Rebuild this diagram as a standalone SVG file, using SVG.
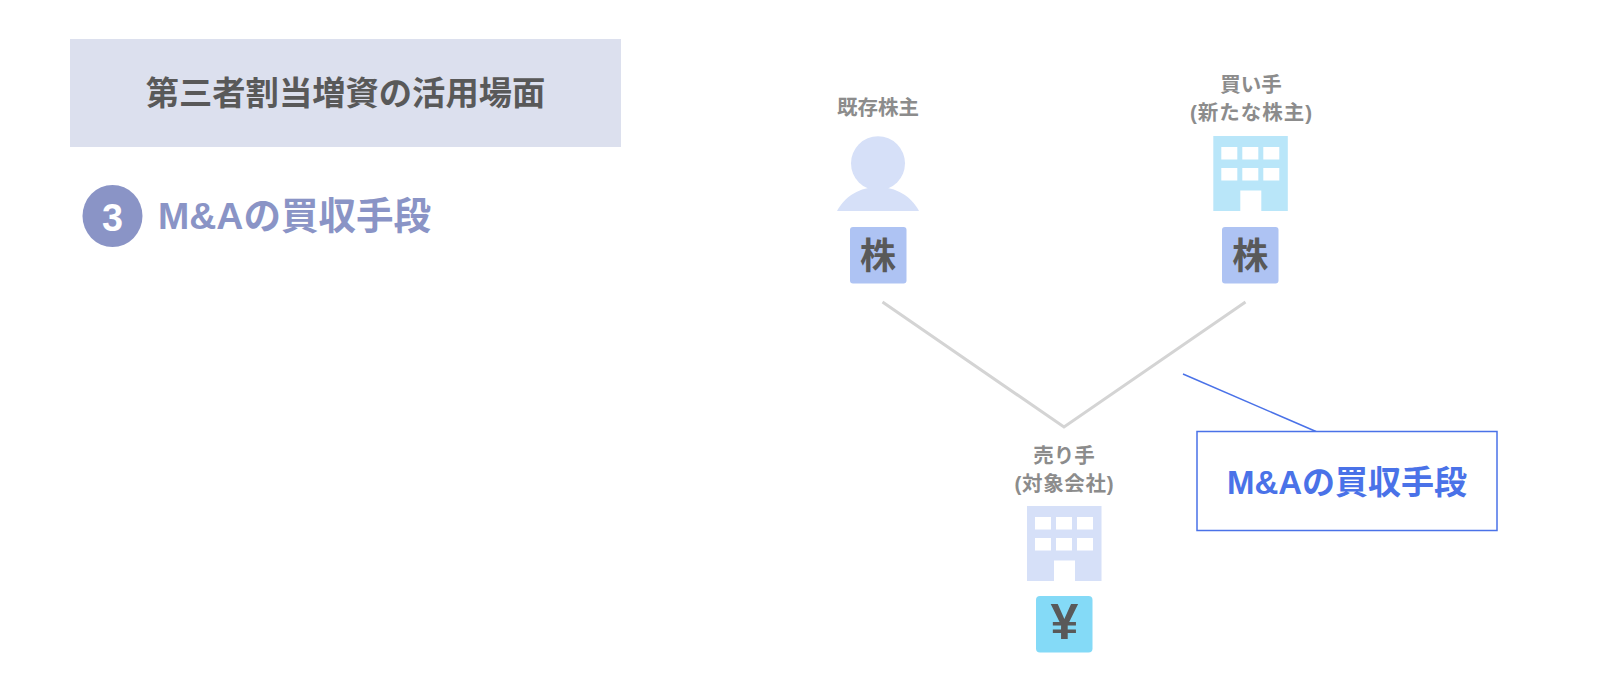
<svg xmlns="http://www.w3.org/2000/svg" width="1600" height="692" viewBox="0 0 1600 692">
<style>
text{font-family:"Liberation Sans","Noto Sans CJK JP",sans-serif;font-weight:700;text-anchor:middle}
.lab{font-size:20.500px;fill:#8c8c8c}
.sq{font-size:36px;fill:#595959}
.win{fill:#fff}
</style>
<defs>
<g id="bld-holes">
<rect class="win" x="8" y="11" width="16" height="12.500"/><rect class="win" x="29" y="11" width="16" height="12.500"/><rect class="win" x="50" y="11" width="16" height="12.500"/>
<rect class="win" x="8" y="32" width="16" height="12.500"/><rect class="win" x="29" y="32" width="16" height="12.500"/><rect class="win" x="50" y="32" width="16" height="12.500"/>
<rect class="win" x="27" y="54.500" width="21" height="20.500"/>
</g>
</defs>
<rect width="1600" height="692" fill="#fff"/>
<g id="title">
<rect x="70" y="39" width="551" height="108" fill="#dce0ee"/>
<text x="345.500" y="105" font-size="33.300" fill="#595959">第三者割当増資の活用場面</text>
</g>
<g id="heading">
<ellipse cx="112.500" cy="216" rx="30" ry="31" fill="#8a94c6"/>
<text x="112.500" y="231" font-size="38" fill="#fff" textLength="21" lengthAdjust="spacingAndGlyphs">3</text>
<text x="158" y="229" font-size="37.500" fill="#8a94c6" style="text-anchor:start">M&amp;Aの買収手段</text>
</g>
<g id="connectors" fill="none">
<polyline points="882.500,302 1064,427 1245.500,302" stroke="#d4d4d4" stroke-width="3"/>
<line x1="1183" y1="374" x2="1316" y2="431.500" stroke="#4a72e8" stroke-width="1.500"/>
</g>
<g id="shareholder">
<text class="lab" x="878" y="115">既存株主</text>
<circle cx="878" cy="163.300" r="27" fill="#d6e0f8"/>
<path d="M837 211C845 196 860 187 878 187C896 187 911 196 919 211Z" fill="#d6e0f8"/>
<rect x="850" y="227" width="56.500" height="56.500" rx="3" fill="#aec3f3"/>
<text class="sq" x="878" y="268.500">株</text>
</g>
<g id="buyer">
<text class="lab" x="1251" y="92">買い手</text>
<text class="lab" x="1251" y="120" textLength="122" lengthAdjust="spacing">(新たな株主)</text>
<rect x="1213.300" y="136" width="74.500" height="75" fill="#b9e6f9"/>
<use href="#bld-holes" x="1213.300" y="136"/>
<rect x="1222" y="227" width="56.500" height="56.500" rx="3" fill="#aec3f3"/>
<text class="sq" x="1250.300" y="268.500">株</text>
</g>
<g id="seller">
<text class="lab" x="1064" y="463">売り手</text>
<text class="lab" x="1064" y="491" textLength="99" lengthAdjust="spacing">(対象会社)</text>
<rect x="1027" y="506" width="74.500" height="75" fill="#d6e0f8"/>
<use href="#bld-holes" x="1027" y="506"/>
<rect x="1036" y="596" width="56.500" height="56.500" rx="4" fill="#84daf7"/>
<text x="1064.300" y="639" font-size="50" fill="#595959">¥</text>
</g>
<g id="callout">
<rect x="1197" y="431.500" width="300" height="99" fill="#fff" stroke="#4a72e8" stroke-width="1.500"/>
<text x="1347" y="494" font-size="33" fill="#4a72e8">M&amp;Aの買収手段</text>
</g>
</svg>
